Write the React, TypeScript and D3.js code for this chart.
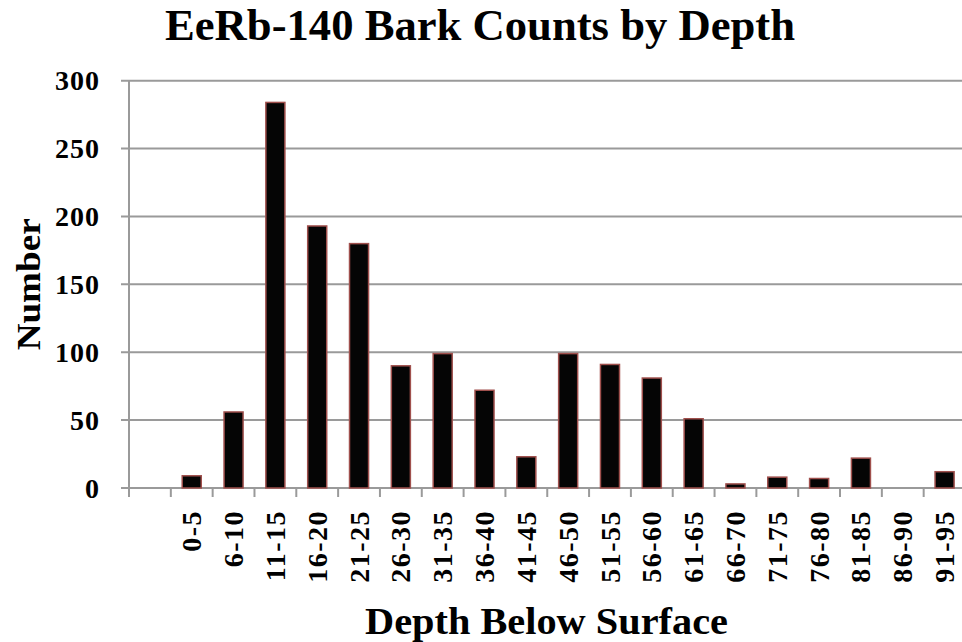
import React from "react";
import * as d3 from "d3";

const categories = ["", "0-5", "6-10", "11-15", "16-20", "21-25", "26-30", "31-35", "36-40", "41-45", "46-50", "51-55", "56-60", "61-65", "66-70", "71-75", "76-80", "81-85", "86-90", "91-95"];
const counts = [null, 9, 56, 284, 193, 180, 90, 99, 72, 23, 99, 91, 81, 51, 3, 8, 7, 22, 0, 12];
const yTicks = [0, 50, 100, 150, 200, 250, 300];

const title = "EeRb-140 Bark Counts by Depth";
const xTitle = "Depth Below Surface";
const yTitle = "Number";

const W = 962, H = 642;
const left = 129, right = 965.5, top = 80.7, bottom = 488;

export default function App() {
  const x = d3.scaleBand<string>().domain(categories).range([left, right]).padding(0);
  const y = d3.scaleLinear().domain([0, 300]).range([bottom, top]);
  const bw = x.bandwidth() * 0.455;
  const grid = "#9a9a9a";
  const font = "'Liberation Serif', serif";
  return (
    <svg width={W} height={H} style={{ position: "absolute", left: 0, top: 0, background: "#fff" }}>
      <text x={480} y={40} textAnchor="middle" fontFamily={font} fontWeight="bold" fontSize={44} textLength={630} lengthAdjust="spacingAndGlyphs">{title}</text>
      {yTicks.map((t) => (
        <g key={t}>
          <line x1={left - 8} x2={right} y1={y(t)} y2={y(t)} stroke={grid} strokeWidth={2} />
          <text x={100} y={y(t)} dy="0.34em" textAnchor="end" fontFamily={font} fontWeight="bold" fontSize={28} letterSpacing={1}>{t}</text>
        </g>
      ))}
      <line x1={left} x2={left} y1={top} y2={bottom + 9} stroke={grid} strokeWidth={2} />
      {categories.map((c, i) => (
        <line key={"tk" + i} x1={(x(c) as number) + x.bandwidth()} x2={(x(c) as number) + x.bandwidth()} y1={bottom} y2={bottom + 9} stroke={grid} strokeWidth={2} />
      ))}
      {categories.map((c, i) => {
        const v = counts[i];
        if (v == null || v <= 0) return null;
        const cx = (x(c) as number) + x.bandwidth() / 2;
        return (
          <rect key={"b" + i} x={cx - bw / 2} y={y(v)} width={bw} height={bottom - y(v)} fill="#050505" stroke="#a0504d" strokeWidth={1.5} />
        );
      })}
      {categories.map((c, i) => {
        if (!c) return null;
        const cx = (x(c) as number) + x.bandwidth() / 2;
        return (
          <text key={"l" + i} transform={`translate(${cx},${510}) rotate(-90)`} dy="0.34em" textAnchor="end" fontFamily={font} fontWeight="bold" fontSize={28} letterSpacing={1.5}>{c}</text>
        );
      })}
      <text transform={`translate(28,${(top + bottom) / 2}) rotate(-90)`} dy="0.35em" textAnchor="middle" fontFamily={font} fontWeight="bold" fontSize={34} textLength={132} lengthAdjust="spacingAndGlyphs">{yTitle}</text>
      <text x={546.5} y={634} textAnchor="middle" fontFamily={font} fontWeight="bold" fontSize={38} textLength={363} lengthAdjust="spacingAndGlyphs">{xTitle}</text>
    </svg>
  );
}
